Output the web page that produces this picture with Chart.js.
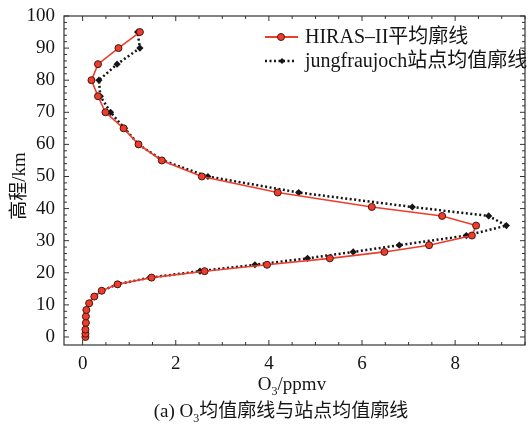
<!DOCTYPE html>
<html>
<head>
<meta charset="utf-8">
<script src="https://cdn.jsdelivr.net/npm/chart.js@4.4.1/dist/chart.umd.min.js"></script>
<style>
  html, body { margin: 0; padding: 0; background: #fff; }
  #wrap { width: 530px; height: 427px; position: relative; }
</style>
</head>
<body>
<div id="wrap"><canvas id="ozoneChart" width="530" height="427"></canvas></div>
<script>
// altitude levels (km) shared by both profiles
const altitudes = [0, 1, 2.3, 4.4, 6.4, 8.4, 10.5, 12.6, 14.4, 16.4, 18.5, 20.5, 22.5, 24.5,
  26.5, 28.6, 31.6, 34.7, 37.7, 40.5, 45, 50, 55, 60, 65, 70, 75, 80, 85, 90, 95];
// O3 mixing ratio (ppmv)
const hirasValues = [0.06, 0.06, 0.06, 0.07, 0.07, 0.08, 0.14, 0.25, 0.41, 0.75, 1.48, 2.62, 3.96, 5.31,
  6.48, 7.44, 8.36, 8.45, 7.72, 6.21, 4.19, 2.56, 1.70, 1.20, 0.88, 0.49, 0.33, 0.19, 0.33, 0.77, 1.23];
const jungValues = [0.06, 0.06, 0.06, 0.07, 0.07, 0.08, 0.14, 0.25, 0.41, 0.74, 1.45, 2.52, 3.70, 4.83,
  5.81, 6.80, 8.24, 9.10, 8.72, 7.08, 4.64, 2.69, 1.72, 1.20, 0.90, 0.60, 0.38, 0.35, 0.74, 1.23, 1.18];

const seriesNames = ['HIRAS\u2013II平均廓线', 'jungfraujoch站点均值廓线'];
const xTickLabels = [0, 2, 4, 6, 8];
const yTickLabels = [0, 10, 20, 30, 40, 50, 60, 70, 80, 90, 100];

const SERIF = '"Liberation Serif", "Times New Roman", "Noto Sans CJK SC", serif';
const RED = '#ee3d2c';
const INK = '#151515';

const toPoints = vals => vals.map((v, i) => ({ x: v, y: altitudes[i] }));

// frame, inward ticks, legend and text labels
const decorations = {
  id: 'decorations',
  afterDraw(chart) {
    const ctx = chart.ctx;
    const { left, right, top, bottom } = chart.chartArea;
    const xs = chart.scales.x, ys = chart.scales.y;
    ctx.save();
    ctx.strokeStyle = '#333';
    ctx.lineWidth = 1.2;
    ctx.strokeRect(left, top, right - left, bottom - top);

    ctx.lineWidth = 1;
    for (let v = 0; v <= 9.5; v += 0.5) {
      const px = xs.getPixelForValue(v);
      const len = (v % 2 === 0) ? 5 : 3;
      ctx.beginPath();
      ctx.moveTo(px, bottom); ctx.lineTo(px, bottom - len);
      ctx.moveTo(px, top); ctx.lineTo(px, top + len);
      ctx.stroke();
    }
    for (let v = 0; v <= 100; v += 2) {
      const py = ys.getPixelForValue(v);
      const len = (v % 10 === 0) ? 5 : 3;
      ctx.beginPath();
      ctx.moveTo(left, py); ctx.lineTo(left + len, py);
      ctx.moveTo(right, py); ctx.lineTo(right - len, py);
      ctx.stroke();
    }

    // legend
    ctx.font = '20px ' + SERIF;
    ctx.textBaseline = 'middle';
    ctx.strokeStyle = RED;
    ctx.lineWidth = 2;
    ctx.beginPath(); ctx.moveTo(265, 37); ctx.lineTo(298, 37); ctx.stroke();
    ctx.beginPath(); ctx.arc(281, 37, 3.5, 0, Math.PI * 2);
    ctx.fillStyle = RED; ctx.fill();
    ctx.strokeStyle = '#4a1410'; ctx.lineWidth = 1; ctx.stroke();
    ctx.fillStyle = INK;
    ctx.fillText(seriesNames[0], 305, 38);

    ctx.strokeStyle = INK;
    ctx.lineWidth = 2.5;
    ctx.setLineDash([2, 2.5]);
    ctx.beginPath(); ctx.moveTo(265, 61); ctx.lineTo(296, 61); ctx.stroke();
    ctx.setLineDash([]);
    ctx.beginPath();
    ctx.moveTo(282, 58); ctx.lineTo(285, 61); ctx.lineTo(282, 64); ctx.lineTo(279, 61); ctx.closePath();
    ctx.fill();
    ctx.fillText(seriesNames[1], 305, 62);

    // x axis title and caption, with subscript 3
    ctx.textBaseline = 'alphabetic';
    ctx.textAlign = 'left';
    const drawSub = (parts, cx, base, size) => {
      const subFont = Math.round(size * 0.65) + 'px ' + SERIF;
      let w = 0;
      parts.forEach(p => {
        ctx.font = p.sub ? subFont : size + 'px ' + SERIF;
        w += ctx.measureText(p.t).width;
      });
      let x = cx - w / 2;
      parts.forEach(p => {
        ctx.font = p.sub ? subFont : size + 'px ' + SERIF;
        ctx.fillText(p.t, x, p.sub ? base + 5 : base);
        x += ctx.measureText(p.t).width;
      });
    };
    drawSub([{ t: 'O' }, { t: '3', sub: true }, { t: '/ppmv' }], 292, 390, 19);
    drawSub([{ t: '(a) O' }, { t: '3', sub: true }, { t: '均值廓线与站点均值廓线' }], 281, 417, 19);

    // y axis title
    ctx.save();
    ctx.translate(25, 186);
    ctx.rotate(-Math.PI / 2);
    ctx.textAlign = 'center';
    ctx.font = '19px ' + SERIF;
    ctx.fillText('高程/km', 0, 0);
    ctx.restore();

    ctx.restore();
  }
};

new Chart(document.getElementById('ozoneChart').getContext('2d'), {
  type: 'scatter',
  data: {
    datasets: [{
      label: seriesNames[0],
      data: toPoints(hirasValues),
      showLine: true,
      borderColor: RED,
      borderWidth: 1.6,
      pointRadius: 3.5,
      pointBackgroundColor: RED,
      pointBorderColor: '#4a1410',
      pointBorderWidth: 1,
      order: 0
    }, {
      label: seriesNames[1],
      data: toPoints(jungValues),
      showLine: true,
      borderColor: INK,
      borderWidth: 2.5,
      borderDash: [2, 2.5],
      pointStyle: 'rectRot',
      pointRadius: 3.6,
      pointBackgroundColor: INK,
      pointBorderColor: INK,
      pointBorderWidth: 0,
      order: 1
    }]
  },
  options: {
    responsive: false,
    animation: false,
    layout: { padding: { top: 16, right: 1, left: 0, bottom: 0 } },
    plugins: { legend: { display: false }, tooltip: { enabled: false } },
    scales: {
      x: {
        type: 'linear',
        min: -0.4,
        max: 9.5,
        grid: { display: false },
        border: { display: false },
        afterBuildTicks: s => { s.ticks = xTickLabels.map(v => ({ value: v })); },
        afterFit: s => { s.height = 82; },
        ticks: { padding: 0, color: INK, font: { family: SERIF, size: 19 }, maxRotation: 0 }
      },
      y: {
        type: 'linear',
        min: -2.5,
        max: 100,
        grid: { display: false },
        border: { display: false },
        afterBuildTicks: s => { s.ticks = yTickLabels.map(v => ({ value: v })); },
        afterFit: s => { s.width = 64; },
        ticks: { padding: 1, color: INK, font: { family: SERIF, size: 19 } }
      }
    }
  },
  plugins: [decorations]
});
</script>
</body>
</html>
